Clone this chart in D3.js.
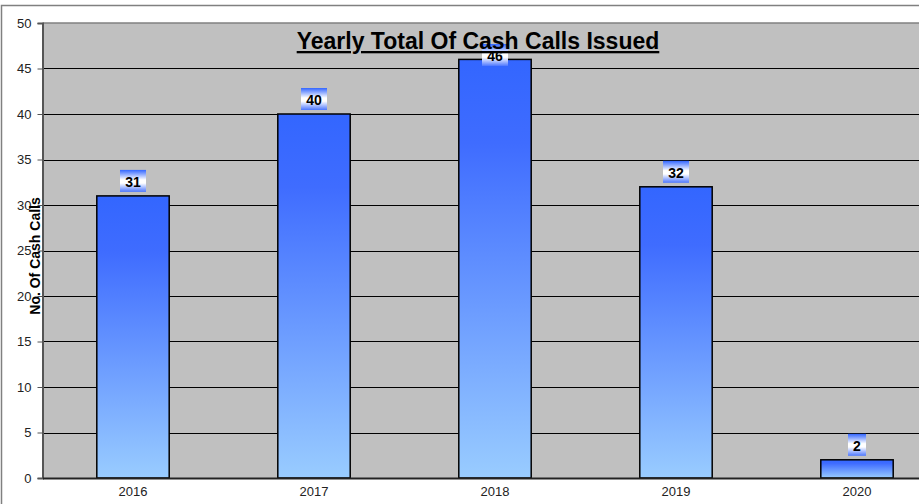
<!DOCTYPE html>
<html>
<head>
<meta charset="utf-8">
<script src="https://cdn.jsdelivr.net/npm/d3@7"></script>
<style>
  body { margin: 0; background: #fff; }
  svg { display: block; font-family: Arial, "Liberation Sans", sans-serif; }
</style>
</head>
<body>
<div class="curr-graff"></div>
<script>
// chart data
var years = ["2016", "2017", "2018", "2019", "2020"];
var cashCalls = [31, 40, 46, 32, 2];
var yTicks = [0, 5, 10, 15, 20, 25, 30, 35, 40, 45, 50];

var width = 919, height = 504;

var svg = d3.select(".curr-graff")
    .append("svg")
    .attr("width", width)
    .attr("height", height);

var defs = svg.append("defs");

// bar gradient: dark blue on top, light blue at bottom
var barGrad = defs.append("linearGradient")
    .attr("id", "barGrad")
    .attr("x1", 0).attr("y1", 0).attr("x2", 0).attr("y2", 1);
barGrad.append("stop").attr("offset", "0%").attr("stop-color", "#3366ff");
barGrad.append("stop").attr("offset", "20%").attr("stop-color", "#3f6cff");
barGrad.append("stop").attr("offset", "100%").attr("stop-color", "#99ccff");

// label box gradient: blue - white - blue
var lblGrad = defs.append("linearGradient")
    .attr("id", "lblGrad")
    .attr("x1", 0).attr("y1", 0).attr("x2", 0).attr("y2", 1);
lblGrad.append("stop").attr("offset", "0%").attr("stop-color", "#3366ff");
lblGrad.append("stop").attr("offset", "45%").attr("stop-color", "#ffffff");
lblGrad.append("stop").attr("offset", "60%").attr("stop-color", "#ffffff");
lblGrad.append("stop").attr("offset", "100%").attr("stop-color", "#4d77ff");

// outer chart border
svg.append("rect")
    .attr("x", 1.5).attr("y", 5.5)
    .attr("width", width + 10).attr("height", height)
    .attr("fill", "#fff")
    .attr("stroke", "#808080")
    .attr("stroke-width", 1.5);

var plotLeft = 42.5, plotRight = 947.5, plotTop = 23, plotBottom = 478;

var xScale = d3.scaleBand()
    .domain(years)
    .range([plotLeft, plotRight])
    .paddingInner(0.6)
    .paddingOuter(0.3);

var yScale = d3.scaleLinear()
    .domain([0, 50])
    .range([plotBottom, plotTop]);

// plot background
svg.append("rect")
    .attr("x", plotLeft).attr("y", plotTop)
    .attr("width", plotRight - plotLeft).attr("height", plotBottom - plotTop)
    .attr("fill", "#c0c0c0");

svg.append("line")
    .attr("x1", plotLeft).attr("x2", plotRight)
    .attr("y1", plotTop).attr("y2", plotTop)
    .attr("stroke", "#808080")
    .attr("stroke-width", 1.5);

// gridlines
svg.append("g")
    .selectAll("line")
    .data(yTicks.filter(d => d > 0 && d < 50))
    .enter()
    .append("line")
    .attr("x1", plotLeft).attr("x2", plotRight)
    .attr("y1", d => Math.round(yScale(d)) + 0.5)
    .attr("y2", d => Math.round(yScale(d)) + 0.5)
    .attr("stroke", "#000")
    .attr("stroke-width", 1);

// y axis
var yAxis = d3.axisLeft(yScale)
    .tickValues(yTicks)
    .tickSize(5)
    .tickPadding(6)
    .tickFormat(d3.format("d"));

var gy = svg.append("g")
    .attr("transform", "translate(" + plotLeft + ",0)")
    .call(yAxis);
gy.select(".domain").attr("stroke", "#555").attr("stroke-width", 2);
gy.selectAll(".tick line").attr("stroke", "#555");
gy.selectAll(".tick text")
    .attr("font-size", 13)
    .attr("font-family", "Arial, 'Liberation Sans', sans-serif")
    .attr("fill", "#222");

// bars
svg.append("g")
    .selectAll("rect")
    .data(cashCalls)
    .enter()
    .append("rect")
    .attr("x", (d, i) => xScale(years[i]))
    .attr("y", d => yScale(d))
    .attr("width", xScale.bandwidth())
    .attr("height", d => plotBottom - yScale(d))
    .attr("fill", "url(#barGrad)")
    .attr("stroke", "#000")
    .attr("stroke-width", 1.5);

// x axis
var xAxis = d3.axisBottom(xScale)
    .tickSize(0)
    .tickPadding(9);

var gx = svg.append("g")
    .attr("transform", "translate(0," + plotBottom + ")")
    .call(xAxis);
gx.select(".domain").attr("stroke", "#222").attr("stroke-width", 2);
gx.selectAll(".tick text")
    .attr("font-size", 13)
    .attr("font-family", "Arial, 'Liberation Sans', sans-serif")
    .attr("fill", "#222");

// value labels (kept inside the plot area, like the spreadsheet does)
var labels = svg.append("g")
    .selectAll("g")
    .data(cashCalls)
    .enter()
    .append("g")
    .attr("transform", (d, i) => "translate(" + (xScale(years[i]) + xScale.bandwidth() / 2) + "," + Math.max(yScale(d) - 4, plotTop + 43) + ")");

labels.append("rect")
    .attr("x", d => d < 10 ? -9 : -13)
    .attr("y", -22)
    .attr("width", d => d < 10 ? 18 : 26)
    .attr("height", 22)
    .attr("fill", "url(#lblGrad)");

labels.append("text")
    .attr("x", 0)
    .attr("y", -5)
    .attr("text-anchor", "middle")
    .attr("font-size", 14)
    .attr("font-weight", "bold")
    .attr("fill", "#000")
    .text(d => d);

// title
svg.append("text")
    .attr("x", 478)
    .attr("y", 49)
    .attr("text-anchor", "middle")
    .attr("font-size", 23)
    .attr("font-weight", "bold")
    .attr("text-decoration", "underline")
    .attr("fill", "#000")
    .text("Yearly Total Of Cash Calls Issued");

// y axis title
svg.append("g")
    .attr("transform", "translate(40,256) rotate(-90)")
    .append("text")
    .attr("text-anchor", "middle")
    .attr("font-size", 14)
    .attr("font-weight", "bold")
    .attr("fill", "#000")
    .text("No. Of Cash Calls");
</script>
</body>
</html>
